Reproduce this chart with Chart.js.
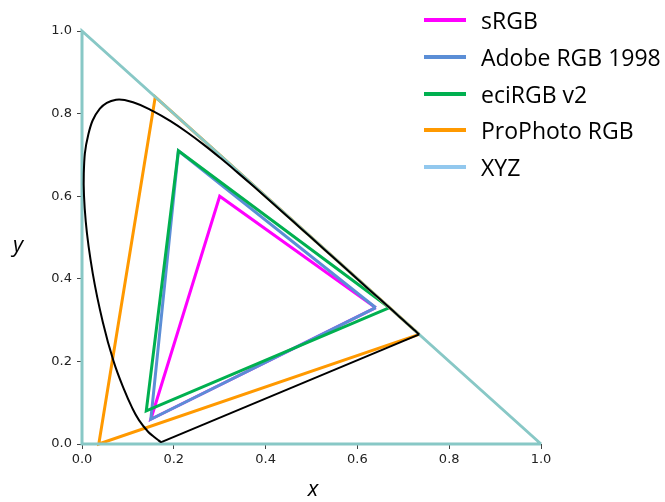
<!DOCTYPE html>
<html>
<head>
<meta charset="utf-8">
<script src="https://cdn.jsdelivr.net/npm/chart.js@4"></script>
<style>
html, body { margin: 0; padding: 0; background: #fff; }
</style>
</head>
<body>
<canvas id="myChart" width="665" height="502"></canvas>
<script>
// Gamut corners (x, y chromaticity), closed back to the first point
const srgbX = [0.64, 0.30, 0.15, 0.64];
const srgbY = [0.33, 0.60, 0.06, 0.33];

const adobeX = [0.64, 0.21, 0.15, 0.64];
const adobeY = [0.33, 0.71, 0.06, 0.33];

const eciX = [0.67, 0.21, 0.14, 0.67];
const eciY = [0.33, 0.71, 0.08, 0.33];

const prophotoX = [0.7347, 0.1596, 0.0366, 0.7347];
const prophotoY = [0.2653, 0.8404, 0.0001, 0.2653];

const xyzX = [1.0, 0.0, 0.0, 1.0];
const xyzY = [0.0, 1.0, 0.0, 0.0];

// Spectral locus (black horseshoe), blue end to red end
const locusX = [0.1741, 0.1714, 0.1644, 0.1566, 0.1440, 0.1241, 0.1096, 0.0913, 0.0687, 0.0454,
    0.0235, 0.0082, 0.0039, 0.0139, 0.0389, 0.0743, 0.1142, 0.1547, 0.1929, 0.2296,
    0.2658, 0.3016, 0.3373, 0.3731, 0.4087, 0.4441, 0.4788, 0.5125, 0.5448, 0.5752,
    0.6029, 0.6270, 0.6658, 0.6915, 0.7079, 0.7190, 0.7260, 0.7347];
const locusY = [0.0050, 0.0051, 0.0109, 0.0177, 0.0297, 0.0578, 0.0868, 0.1327, 0.2007, 0.2950,
    0.4127, 0.5384, 0.6548, 0.7502, 0.8120, 0.8338, 0.8262, 0.8059, 0.7816, 0.7543,
    0.7243, 0.6923, 0.6589, 0.6245, 0.5896, 0.5547, 0.5202, 0.4866, 0.4544, 0.4242,
    0.3965, 0.3725, 0.3340, 0.3083, 0.2920, 0.2809, 0.2740, 0.2653];

// line of purples, red end back to blue end
const purpleX = [0.7347, 0.1741];
const purpleY = [0.2653, 0.0050];

const seriesNames = ['sRGB', 'Adobe RGB 1998', 'eciRGB v2', 'ProPhoto RGB', 'XYZ'];
const lineColors = ['#ff00ff', '#5b8ed6', '#00b050', '#ff9900', '#88c8c6'];
const legendColors = ['#ff00ff', '#5b8ed6', '#00b050', '#ff9900', '#92c8ee'];
const tickLabels = ['0.0', '0.2', '0.4', '0.6', '0.8', '1.0'];

function toPoints(xs, ys) {
    return xs.map((x, i) => ({ x: x, y: ys[i] }));
}

const gamuts = [[srgbX, srgbY], [adobeX, adobeY], [eciX, eciY], [prophotoX, prophotoY], [xyzX, xyzY]];
// draw order: eci over adobe over srgb, xyz over prophoto, locus on top
const drawOrder = [5, 4, 3, 2, 1];

const datasets = gamuts.map((g, i) => ({
    label: seriesNames[i],
    data: toPoints(g[0], g[1]),
    borderColor: lineColors[i],
    borderWidth: 3,
    borderJoinStyle: 'miter',
    showLine: true,
    pointRadius: 0,
    clip: false,
    order: drawOrder[i]
}));

datasets.push({
    label: 'locus',
    data: toPoints(locusX, locusY),
    borderColor: '#000',
    borderWidth: 2,
    tension: 0.4,
    showLine: true,
    pointRadius: 0,
    clip: false,
    order: 0
});

datasets.push({
    label: 'purples',
    data: toPoints(purpleX, purpleY),
    borderColor: '#000',
    borderWidth: 2,
    showLine: true,
    pointRadius: 0,
    clip: false,
    order: 0
});

// legend and axis titles drawn by hand
const extras = {
    id: 'extras',
    afterDraw(chart) {
        const ctx = chart.ctx;
        ctx.save();
        const rows = [20, 57, 94, 130, 167];
        seriesNames.forEach((name, i) => {
            ctx.strokeStyle = legendColors[i];
            ctx.lineWidth = 4;
            ctx.beginPath();
            ctx.moveTo(424, rows[i]);
            ctx.lineTo(466, rows[i]);
            ctx.stroke();
            ctx.fillStyle = '#000';
            ctx.font = '23px "Open Sans"';
            ctx.textBaseline = 'middle';
            ctx.textAlign = 'left';
            ctx.fillText(name, 481, rows[i] + 2);
        });
        ctx.font = 'italic 22px "Open Sans"';
        ctx.textAlign = 'center';
        ctx.textBaseline = 'middle';
        ctx.fillText('y', 18, 246);
        ctx.fillText('x', 313, 490);
        ctx.restore();
    }
};

const tickFont = { family: '"DejaVu Sans"', size: 13 };

const config = {
    type: 'scatter',
    data: { datasets: datasets },
    options: {
        responsive: false,
        animation: false,
        devicePixelRatio: 1,
        layout: { padding: { top: 31, right: 124, left: 0, bottom: 0 } },
        plugins: {
            legend: { display: false },
            tooltip: { enabled: false }
        },
        scales: {
            x: {
                type: 'linear',
                min: 0,
                max: 1,
                afterFit: s => { s.height = 58; },
                border: { display: false },
                grid: { drawOnChartArea: false, drawTicks: true, tickLength: 5, color: '#444' },
                ticks: {
                    stepSize: 0.2,
                    color: '#222',
                    font: tickFont,
                    padding: 3,
                    callback: (v, i) => tickLabels[i]
                }
            },
            y: {
                type: 'linear',
                min: 0,
                max: 1,
                afterFit: s => { s.width = 82; },
                border: { display: false },
                grid: { drawOnChartArea: false, drawTicks: true, tickLength: 5, color: '#444' },
                ticks: {
                    stepSize: 0.2,
                    color: '#222',
                    font: tickFont,
                    padding: 5,
                    callback: (v, i) => tickLabels[i]
                }
            }
        }
    },
    plugins: [extras]
};

const myChart = new Chart(document.getElementById('myChart'), config);
</script>
</body>
</html>
